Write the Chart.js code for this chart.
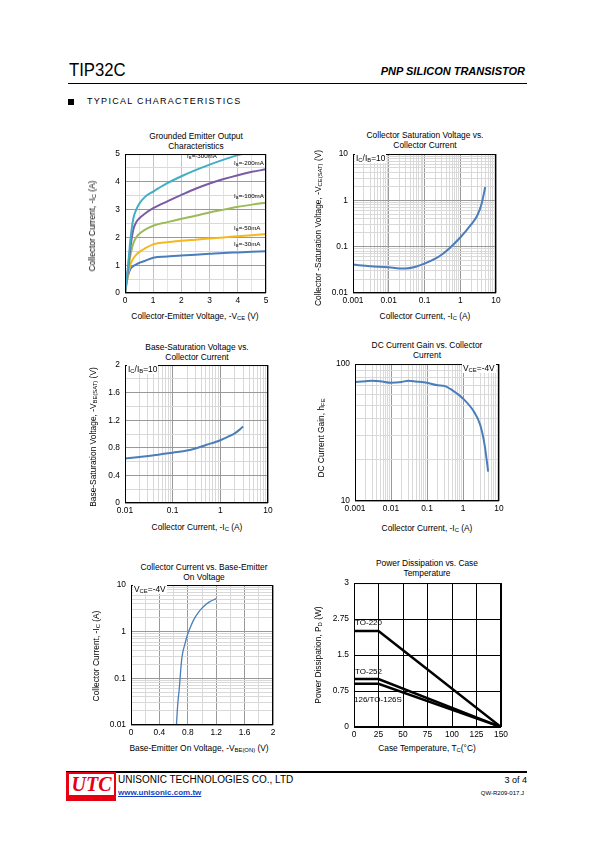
<!DOCTYPE html>
<html>
<head>
<meta charset="utf-8">
<script src="https://cdn.jsdelivr.net/npm/chart.js@4.4.0/dist/chart.umd.min.js"></script>
<style>
body{margin:0;background:#fff;}
#page{position:relative;width:595px;height:842px;overflow:hidden;font-family:"Liberation Sans",Arial,sans-serif;color:#000;background:#fff;}
canvas{position:absolute;}
.abs{position:absolute;white-space:nowrap;}
.ttl{position:absolute;text-align:center;font-size:8.4px;line-height:10px;transform:translateX(-50%);white-space:nowrap;}
.xl{position:absolute;font-size:8.4px;transform:translate(-50%,-50%);white-space:nowrap;}
.yl{position:absolute;font-size:8.4px;transform:translate(-50%,-50%) rotate(-90deg);white-space:nowrap;}
sub{font-size:70%;vertical-align:-0.25em;line-height:0;}
.note{position:absolute;font-size:8.4px;background:#fff;transform:translateY(-50%);white-space:nowrap;padding:0 1px;}
.cl{position:absolute;font-size:6.2px;transform:translateY(-50%);white-space:nowrap;}
.pk{position:absolute;font-size:8px;transform:translateY(-50%);white-space:nowrap;}
</style>
</head>
<body>
<div id="page">
  <!-- header -->
  <div class="abs" style="left:69px;top:59px;font-size:19px;transform:scaleX(0.88);transform-origin:left top;">TIP32C</div>
  <div class="abs" style="right:70px;top:65px;font-size:11px;font-weight:bold;font-style:italic;">PNP SILICON TRANSISTOR</div>
  <div class="abs" style="left:68px;top:83px;width:459px;height:1px;background:#000;"></div>
  <div class="abs" style="left:68px;top:99px;width:6px;height:6px;background:#000;"></div>
  <div class="abs" style="left:87px;top:96px;font-size:9px;letter-spacing:1.3px;">TYPICAL CHARACTERISTICS</div>

  <!-- chart 1 -->
  <div class="ttl" style="left:196px;top:131px;">Grounded Emitter Output<br>Characteristics</div>
  <canvas id="c1"></canvas>
  <div class="xl" style="left:195px;top:316px;">Collector-Emitter Voltage, -V<sub>CE</sub> (V)</div>
  <div class="yl" style="left:92px;top:226px;">Collector Current, -I<sub>C</sub> (A)</div>
  <div class="cl" style="left:187px;top:155px;">I<sub>B</sub>=-300mA</div>
  <div class="cl" style="left:234px;top:162px;">I<sub>B</sub>=-200mA</div>
  <div class="cl" style="left:234px;top:195px;">I<sub>B</sub>=-100mA</div>
  <div class="cl" style="left:234px;top:227px;">I<sub>B</sub>=-50mA</div>
  <div class="cl" style="left:234px;top:243px;">I<sub>B</sub>=-30mA</div>

  <!-- chart 2 -->
  <div class="ttl" style="left:425px;top:130px;">Collector Saturation Voltage vs.<br>Collector Current</div>
  <canvas id="c2"></canvas>
  <div class="xl" style="left:425px;top:316px;">Collector Current, -I<sub>C</sub> (A)</div>
  <div class="yl" style="left:318px;top:228px;">Collector -Saturation Voltage, -V<sub>CE(SAT)</sub> (V)</div>
  <div class="note" style="left:355px;top:158px;">I<sub>C</sub>/I<sub>B</sub>=10</div>

  <!-- chart 3 -->
  <div class="ttl" style="left:197px;top:342px;">Base-Saturation Voltage vs.<br>Collector Current</div>
  <canvas id="c3"></canvas>
  <div class="xl" style="left:197px;top:527px;">Collector Current, -I<sub>C</sub> (A)</div>
  <div class="yl" style="left:93px;top:437px;">Base-Saturation Voltage, -V<sub>BE(SAT)</sub> (V)</div>
  <div class="note" style="left:127px;top:369px;">I<sub>C</sub>/I<sub>B</sub>=10</div>

  <!-- chart 4 -->
  <div class="ttl" style="left:427px;top:340px;">DC Current Gain vs. Collector<br>Current</div>
  <canvas id="c4"></canvas>
  <div class="xl" style="left:427px;top:528px;">Collector Current, -I<sub>C</sub> (A)</div>
  <div class="yl" style="left:321px;top:438px;">DC Current Gain, h<sub>FE</sub></div>
  <div class="note" style="left:462px;top:368px;">V<sub>CE</sub>=-4V</div>

  <!-- chart 5 -->
  <div class="ttl" style="left:204px;top:562px;">Collector Current vs. Base-Emitter<br>On Voltage</div>
  <canvas id="c5"></canvas>
  <div class="xl" style="left:199px;top:748px;">Base-Emitter On Voltage, -V<sub>BE(ON)</sub> (V)</div>
  <div class="yl" style="left:96px;top:656px;">Collector Current, -I<sub>C</sub> (A)</div>
  <div class="note" style="left:133px;top:589px;">V<sub>CE</sub>=-4V</div>

  <!-- chart 6 -->
  <div class="ttl" style="left:427px;top:558px;">Power Dissipation vs. Case<br>Temperature</div>
  <canvas id="c6"></canvas>
  <div class="xl" style="left:427px;top:748px;">Case Temperature, T<sub>C</sub>(°C)</div>
  <div class="yl" style="left:318px;top:655px;">Power Dissipation, P<sub>D</sub> (W)</div>
  <div class="pk" style="left:355px;top:622px;">TO-220</div>
  <div class="pk" style="left:355px;top:671px;">TO-252</div>
  <div class="pk" style="left:354px;top:699px;">126/TO-126S</div>

  <!-- footer -->
  <div class="abs" style="left:66px;top:771px;width:461px;height:2px;background:#000;"></div>
  <div class="abs" style="left:66px;top:772px;width:50px;height:29px;background:#e60012;"></div>
  <div class="abs" style="left:69px;top:774px;width:45px;height:21px;background:#fff;"></div>
  <div class="abs" style="left:69px;top:773px;width:45px;text-align:center;font-family:'Liberation Serif',serif;font-style:italic;font-weight:bold;font-size:20px;color:#e60012;">UTC</div>
  <div class="abs" style="left:118px;top:774px;font-size:10px;">UNISONIC TECHNOLOGIES CO., LTD</div>
  <div class="abs" style="left:118px;top:788px;font-size:8px;font-weight:bold;color:#1a3fc0;text-decoration:underline;">www.unisonic.com.tw</div>
  <div class="abs" style="right:68px;top:775px;font-size:9px;">3 of 4</div>
  <div class="abs" style="right:71px;top:790px;font-size:6px;">QW-R209-017.J</div>
</div>

<script>
// ---- data ----
// chart 1: grounded emitter output
const vce = [0, 0.1, 0.2, 0.3, 0.4, 0.5, 0.7, 1, 1.5, 2, 2.5, 3, 3.5, 4, 4.5, 5];
const ib300 = [0, 0.9, 2.0, 2.7, 3.0, 3.2, 3.45, 3.65, 3.95, 4.2, 4.42, 4.62, 4.8, 4.96, 5.1, null];
const ib200 = [0, 0.8, 1.7, 2.3, 2.55, 2.68, 2.85, 3.05, 3.3, 3.53, 3.75, 3.94, 4.1, 4.24, 4.36, 4.45];
const ib100 = [0, 0.7, 1.4, 1.8, 2.0, 2.12, 2.27, 2.42, 2.55, 2.67, 2.78, 2.9, 3.0, 3.1, 3.18, 3.25];
const ib50 = [0, 0.65, 1.05, 1.25, 1.38, 1.47, 1.6, 1.75, 1.83, 1.88, 1.92, 1.96, 2.0, 2.04, 2.08, 2.12];
const ib30 = [0, 0.6, 0.88, 0.97, 1.03, 1.08, 1.15, 1.27, 1.31, 1.35, 1.38, 1.41, 1.44, 1.46, 1.48, 1.5];
const outXLabels = ["0", "1", "2", "3", "4", "5"];
const outYLabels = ["0", "1", "2", "3", "4", "5"];

// chart 2: collector saturation voltage
const icSat = [0.001, 0.003, 0.01, 0.02, 0.03, 0.05, 0.1, 0.2, 0.3, 0.5, 1, 2, 3, 4, 5];
const vceSat = [0.041, 0.038, 0.036, 0.034, 0.034, 0.036, 0.043, 0.055, 0.067, 0.093, 0.158, 0.30, 0.47, 0.87, 1.95];
const satXLabels = ["0.001", "0.01", "0.1", "1", "10"];
const satYLabels = ["0.01", "0.1", "1", "10"];

// chart 3: base saturation voltage
const icBs = [0.01, 0.02, 0.05, 0.1, 0.2, 0.3, 0.5, 1, 1.5, 2, 2.5, 3];
const vbeSat = [0.645, 0.668, 0.70, 0.73, 0.76, 0.79, 0.84, 0.91, 0.965, 1.01, 1.06, 1.11];
const bsXLabels = ["0.01", "0.1", "1", "10"];
const bsYLabels = ["0", "0.4", "0.8", "1.2", "1.6", "2"];

// chart 4: DC current gain
const icGain = [0.001, 0.002, 0.003, 0.005, 0.01, 0.02, 0.03, 0.05, 0.1, 0.2, 0.3, 0.5, 1, 2, 3, 4, 5];
const hfe = [74, 75, 75.5, 75, 73, 74, 75.5, 74.5, 73, 70, 69.3, 64.5, 56, 45, 36, 25.5, 16.4];
const gainXLabels = ["0.001", "0.01", "0.1", "1", "10"];
const gainYLabels = ["10", "100"];

// chart 5: collector current vs base-emitter on voltage
const vbeOn = [0.64, 0.66, 0.68, 0.70, 0.72, 0.76, 0.80, 0.85, 0.90, 0.95, 1.0, 1.05, 1.1, 1.2];
const icOn = [0.01, 0.03, 0.06, 0.15, 0.3, 0.55, 0.9, 1.4, 2.0, 2.6, 3.2, 3.8, 4.3, 5.1];
const onXLabels = ["0", "0.4", "0.8", "1.2", "1.6", "2"];
const onYLabels = ["0.01", "0.1", "1", "10"];

// chart 6: power dissipation derating
const tc = [0, 25, 150];
const pdTo220 = [2, 2, 0];
const pdTo252 = [1, 1, 0];
const pdTo126 = [0.9, 0.9, 0];
const pdYLabels = ["0", "0.75", "1.5", "2.75", "3"];

// ---- helpers ----
const FONT = { family: '"Liberation Sans", Arial, sans-serif', size: 8.4 };

function pts(xs, ys) {
  return xs.map((x, i) => ({ x: x, y: ys[i] }));
}

function onStep(v, st) {
  const q = v / st;
  return Math.abs(q - Math.round(q)) < 1e-6;
}

function isDecade(v) {
  const e = Math.log10(v);
  return Math.abs(e - Math.round(e)) < 1e-6;
}

// 1..9 x 10^e grid positions
function logTicks(min, max) {
  const out = [];
  for (let e = Math.round(Math.log10(min)); Math.pow(10, e) <= max * 1.0001; e++) {
    for (let d = 1; d < 10; d++) {
      const v = e < 0 ? d / Math.pow(10, -e) : d * Math.pow(10, e);
      if (v > max * 1.0001) break;
      out.push({ value: v });
    }
  }
  return out;
}

function fitFn(pos) {
  return s => { if (pos === 'x') s.height = 14; else s.width = 30; };
}

function linAxis(pos, min, max, step, labels, labelStep, majorStep, gMajor, gMinor) {
  return {
    type: 'linear', min: min, max: max,
    afterFit: fitFn(pos),
    border: { display: false },
    grid: { drawTicks: false, color: c => (c.tick && onStep(c.tick.value, majorStep)) ? gMajor : gMinor },
    ticks: {
      stepSize: step, autoSkip: false, maxRotation: 0, padding: pos === 'x' ? 3 : 5,
      font: FONT, color: '#000',
      callback: v => onStep(v - min, labelStep) ? labels[Math.round((v - min) / labelStep)] : ''
    }
  };
}

function logAxis(pos, min, max, labels, gMajor, gMinor) {
  const e0 = Math.round(Math.log10(min));
  return {
    type: 'logarithmic', min: min, max: max,
    afterFit: fitFn(pos),
    afterBuildTicks: s => { s.ticks = logTicks(min, max); },
    border: { display: false },
    grid: { drawTicks: false, color: c => (c.tick && isDecade(c.tick.value)) ? gMajor : gMinor },
    ticks: {
      autoSkip: false, maxRotation: 0, padding: pos === 'x' ? 3 : 5,
      font: FONT, color: '#000',
      callback: v => isDecade(v) ? labels[Math.round(Math.log10(v)) - e0] : ''
    }
  };
}

const framePlugin = {
  id: 'frame',
  afterDraw(chart) {
    const a = chart.chartArea, ctx = chart.ctx;
    ctx.save();
    ctx.strokeStyle = '#000';
    ctx.lineWidth = 1;
    ctx.strokeRect(a.left + 0.5, a.top + 0.5, a.right - a.left - 1, a.bottom - a.top - 1);
    ctx.restore();
  }
};

function line(data, color, width, extra) {
  return Object.assign({
    data: data, borderColor: color, borderWidth: width, pointRadius: 0,
    fill: false, cubicInterpolationMode: 'monotone'
  }, extra || {});
}

// plot box in page pixels -> canvas placement
function makeChart(id, box, datasets, xAxis, yAxis) {
  const cv = document.getElementById(id);
  cv.width = box.r - box.l + 42;
  cv.height = box.b - box.t + 22;
  cv.style.left = (box.l - 30) + 'px';
  cv.style.top = (box.t - 8) + 'px';
  return new Chart(cv, {
    type: 'line',
    data: { datasets: datasets },
    options: {
      responsive: false, animation: false, events: [],
      layout: { padding: { left: 0, top: 8, right: 12, bottom: 0 } },
      plugins: { legend: { display: false }, tooltip: { enabled: false } },
      scales: { x: xAxis, y: yAxis }
    },
    plugins: [framePlugin]
  });
}

const GM = '#999', gm = '#d9d9d9';
const BLUE = '#4a7ebb';

// chart 1
makeChart('c1', { l: 125, t: 152, r: 266, b: 293 }, [
  line(pts(vce, ib300), '#42aec6', 2),
  line(pts(vce, ib200), '#7a5ca5', 2),
  line(pts(vce, ib100), '#9bbb59', 2),
  line(pts(vce, ib50), '#f6b81e', 2),
  line(pts(vce, ib30), '#4a7ebb', 2)
], linAxis('x', 0, 5, 0.5, outXLabels, 1, 1, '#c4c4c4', '#e4e4e4'),
   linAxis('y', 0, 5, 0.5, outYLabels, 1, 1, GM, gm));

// chart 2
makeChart('c2', { l: 353, t: 152, r: 496, b: 293 }, [
  line(pts(icSat, vceSat), BLUE, 2)
], logAxis('x', 0.001, 10, satXLabels, GM, gm),
   logAxis('y', 0.01, 10, satYLabels, GM, gm));

// chart 3
makeChart('c3', { l: 125, t: 363, r: 268, b: 503 }, [
  line(pts(icBs, vbeSat), BLUE, 2)
], logAxis('x', 0.01, 10, bsXLabels, GM, gm),
   linAxis('y', 0, 2, 0.2, bsYLabels, 0.4, 0.4, GM, gm));

// chart 4
makeChart('c4', { l: 355, t: 362, r: 499, b: 501 }, [
  line(pts(icGain, hfe), BLUE, 2)
], logAxis('x', 0.001, 10, gainXLabels, GM, gm),
   logAxis('y', 10, 100, gainYLabels, GM, gm));

// chart 5
makeChart('c5', { l: 131, t: 583, r: 273, b: 725 }, [
  line(pts(vbeOn, icOn), BLUE, 1.3)
], linAxis('x', 0, 2, 0.2, onXLabels, 0.4, 0.4, GM, gm),
   logAxis('y', 0.01, 10, onYLabels, GM, gm));

// chart 6
makeChart('c6', { l: 354, t: 581, r: 501, b: 727 }, [
  line(pts(tc, pdTo220), '#000', 2.5, { cubicInterpolationMode: 'default', tension: 0 }),
  line(pts(tc, pdTo252), '#000', 2.5, { cubicInterpolationMode: 'default', tension: 0 }),
  line(pts(tc, pdTo126), '#000', 2.5, { cubicInterpolationMode: 'default', tension: 0 })
], {
  type: 'linear', min: 0, max: 150,
  afterFit: fitFn('x'),
  border: { display: false },
  grid: { drawTicks: false, color: '#000' },
  ticks: { stepSize: 25, autoSkip: false, maxRotation: 0, padding: 3, font: FONT, color: '#000' }
}, linAxis('y', 0, 3, 0.75, pdYLabels, 0.75, 0.75, '#000', '#000'));
</script>
</body>
</html>
